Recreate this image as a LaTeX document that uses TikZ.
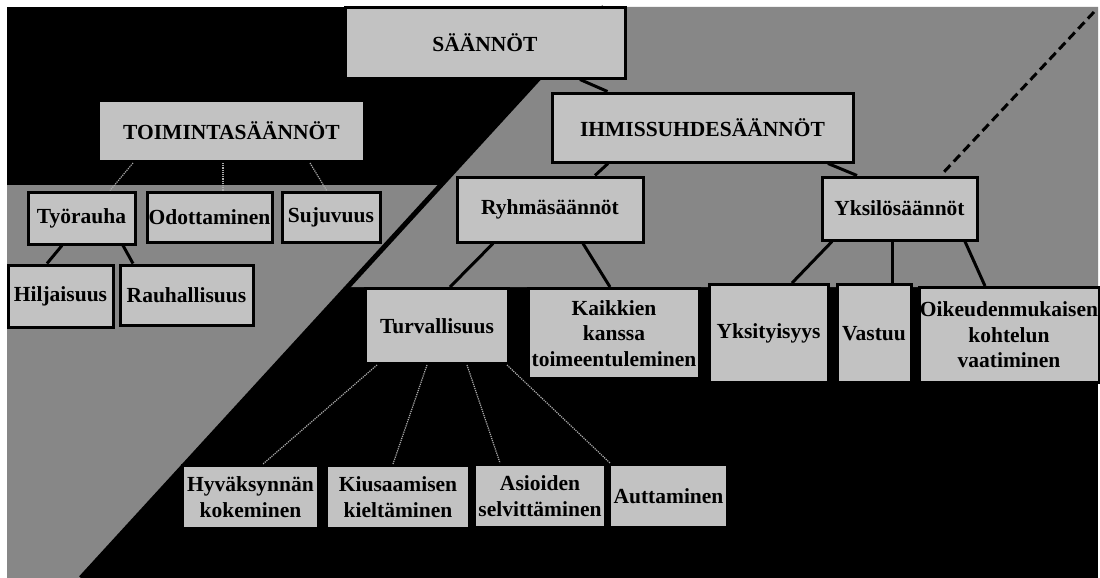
\documentclass[tikz,border=0pt]{standalone}
\usepackage{fontspec}
\setmainfont{Liberation Serif}
\usetikzlibrary{calc}
\definecolor{boxgray}{HTML}{C2C2C2}
\definecolor{bggray}{HTML}{878787}
\tikzset{
  box/.style={draw=black, line width=3pt, fill=boxgray, inner sep=0pt, align=center,
    font=\fontsize{21.5}{25.5}\selectfont\bfseries, text=black},
  con/.style={draw=black, line width=3pt},
  faint/.style={draw=gray!65, line width=1.2pt, densely dotted},
}
\begin{document}
\begin{tikzpicture}[x=1pt,y=-1pt]
\useasboundingbox (0,0) rectangle (1100,578);
% background
\fill[white] (0,0) rectangle (1100,578);
\fill[black] (7,7) rectangle (1098,578);
\fill[bggray] (7,185) -- (441,185) -- (81,578) -- (7,578) -- cycle;
\fill[bggray] (604,7) -- (1098,7) -- (1098,287) -- (348,287) -- cycle;
\draw[black, line width=5pt] (604,7) -- (81,578);
\draw[black, line width=3pt, dash pattern=on 9pt off 5pt] (1094,12) -- (943,173);

% nodes
\node[box, minimum width=280pt, minimum height=70pt] (saannot) at (485,43) {SÄÄNNÖT};
\node[box, minimum width=266pt, minimum height=61pt] (toim) at (231.5,131) {TOIMINTASÄÄNNÖT};
\node[box, minimum width=301pt, minimum height=69pt] (ihmis) at (702.5,127.5) {IHMISSUHDESÄÄNNÖT};

\node[box, minimum width=107pt, minimum height=52pt] (tyo) at (81.5,218) {Työrauha};
\node[box, minimum width=125pt, minimum height=50pt] (odo) at (209.5,217.5) {Odottaminen};
\node[box, minimum width=98pt, minimum height=50pt] (suj) at (331,217.5) {Sujuvuus};
\node[box, minimum width=105pt, minimum height=62pt] (hilj) at (60.5,296) {Hiljaisuus};
\node[box, minimum width=133pt, minimum height=60pt] (rauh) at (186.5,295) {Rauhallisuus};

\node[box, minimum width=186pt, minimum height=65pt] (ryhma) at (550,209.5) {Ryhmäsäännöt};
\node[box, minimum width=155pt, minimum height=63pt] (yksilo) at (899.5,208.5) {Yksilösäännöt};

\node[box, minimum width=143pt, minimum height=75pt] (turv) at (437,326) {Turvallisuus};
\node[box, minimum width=171pt, minimum height=90pt] (kaik) at (614,333.5) {Kaikkien\\kanssa\\toimeentuleminen};
\node[box, minimum width=119pt, minimum height=98pt] (yksit) at (768.5,333.5) {Yksityisyys};
\node[box, minimum width=74pt, minimum height=98pt] (vastuu) at (874,333.5) {Vastuu};
\node[box, minimum width=180pt, minimum height=95pt] (oik) at (1009,335) {Oikeudenmukaisen\\kohtelun\\vaatiminen};

\node[box, minimum width=136pt, minimum height=63pt] (hyv) at (250.5,497) {Hyväksynnän\\kokeminen};
\node[box, minimum width=143pt, minimum height=63pt] (kius) at (398,497) {Kiusaamisen\\kieltäminen};
\node[box, minimum width=131pt, minimum height=63pt] (asio) at (540,496) {Asioiden\\selvittäminen};
\node[box, minimum width=118pt, minimum height=63pt] (autt) at (668.5,496) {Auttaminen};

% solid connectors
\draw[con] ([xshift=95pt]saannot.south) -- ([xshift=-95pt]ihmis.north);
\draw[con] ([xshift=-94.5pt]ihmis.south) -- ([xshift=45pt]ryhma.north);
\draw[con] ([xshift=125.5pt]ihmis.south) -- ([xshift=-42.5pt]yksilo.north);
\draw[con] ([xshift=-57pt]ryhma.south) -- ([xshift=13pt]turv.north);
\draw[con] ([xshift=33pt]ryhma.south) -- ([xshift=-4pt]kaik.north);
\draw[con] ([xshift=-67.5pt]yksilo.south) -- ([xshift=23.5pt]yksit.north);
\draw[con] ([xshift=-7.5pt]yksilo.south) -- ([xshift=18pt]vastuu.north);
\draw[con] ([xshift=65.5pt]yksilo.south) -- ([xshift=-24pt]oik.north);
\draw[con] ([xshift=-19.5pt]tyo.south) -- ([xshift=-13.5pt]hilj.north);
\draw[con] ([xshift=41.5pt]tyo.south) -- ([xshift=-53.5pt]rauh.north);

% faint connectors in the black area
\draw[faint] ([xshift=-98.5pt]toim.south) -- ([xshift=28.5pt]tyo.north);
\draw[faint] ([xshift=-8.5pt]toim.south) -- ([xshift=13.5pt]odo.north);
\draw[faint] ([xshift=78.5pt]toim.south) -- ([xshift=-4pt]suj.north);
\draw[faint] ([xshift=-60pt]turv.south) -- ([xshift=12.5pt]hyv.north);
\draw[faint] ([xshift=-10pt]turv.south) -- ([xshift=-5pt]kius.north);
\draw[faint] ([xshift=30pt]turv.south) -- ([xshift=-40pt]asio.north);
\draw[faint] ([xshift=70pt]turv.south) -- ([xshift=-58.5pt]autt.north);
\end{tikzpicture}
\end{document}
